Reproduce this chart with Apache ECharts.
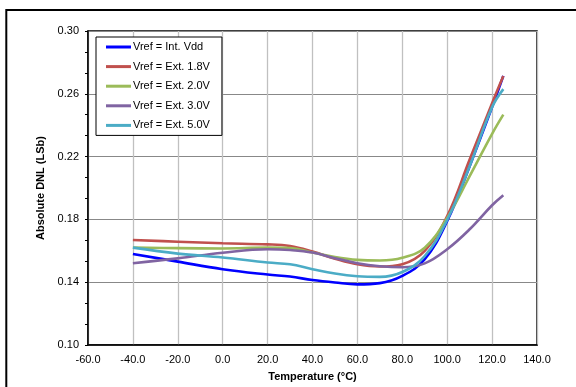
<!DOCTYPE html>
<html>
<head>
<meta charset="utf-8">
<script src="https://cdn.jsdelivr.net/npm/echarts@6/dist/echarts.min.js"></script>
<style>html,body{margin:0;padding:0;background:#fff;}#c{width:576px;height:387px;}</style>
</head>
<body>
<div id="c"></div>
<script>
const temps = [-40, -20, 0, 20, 30, 40, 50, 60, 70, 80, 90, 100, 110, 120, 125];
const intVdd = [0.1580, 0.1531, 0.1483, 0.1449, 0.1436, 0.1414, 0.1398, 0.1386, 0.1394, 0.1440, 0.1546, 0.1790, 0.2139, 0.2515, 0.2714];
const ext18 = [0.1669, 0.1658, 0.1648, 0.1641, 0.1630, 0.1595, 0.1550, 0.1514, 0.1500, 0.1515, 0.1600, 0.1821, 0.2181, 0.2540, 0.2714];
const ext20 = [0.1620, 0.1617, 0.1615, 0.1620, 0.1618, 0.1589, 0.1560, 0.1542, 0.1538, 0.1555, 0.1620, 0.1810, 0.2075, 0.2345, 0.2467];
const ext30 = [0.1521, 0.1552, 0.1588, 0.1610, 0.1605, 0.1589, 0.1553, 0.1521, 0.1502, 0.1495, 0.1520, 0.1610, 0.1737, 0.1890, 0.1954];
const ext50 = [0.1620, 0.1582, 0.1557, 0.1525, 0.1514, 0.1483, 0.1455, 0.1438, 0.1434, 0.1465, 0.1567, 0.1797, 0.2139, 0.2515, 0.2630];
const seriesNames = ['Vref = Int. Vdd', 'Vref = Ext. 1.8V', 'Vref = Ext. 2.0V', 'Vref = Ext. 3.0V', 'Vref = Ext. 5.0V'];
const seriesColors = ['#0000FF', '#C0504D', '#9BBB59', '#8064A2', '#4BACC6'];
const yTickLabels = ['0.10', '0.14', '0.18', '0.22', '0.26', '0.30'];
const yBase = 0.10;

const allData = [intVdd, ext18, ext20, ext30, ext50];
const font = '"Liberation Sans", Arial, sans-serif';

const chart = echarts.init(document.getElementById('c'), null, {renderer: 'canvas'});
chart.setOption({
  animation: false,
  backgroundColor: '#fff',
  graphic: [{
    type: 'rect', silent: true, z: 100,
    shape: {x: 6.3, y: 10, width: 700, height: 500},
    style: {fill: 'none', stroke: '#000', lineWidth: 2}
  }],
  grid: {left: 88, right: 39, top: 31, bottom: 41, show: true, borderColor: '#000', borderWidth: 1.5, backgroundColor: 'transparent'},
  legend: {
    left: 96, top: 37, orient: 'vertical',
    backgroundColor: '#fff', borderColor: '#000', borderWidth: 1,
    padding: [3, 12, 3, 10],
    itemWidth: 25, itemHeight: 3, itemGap: 5.6, icon: 'rect',
    textStyle: {fontFamily: font, fontSize: 11, color: '#000', lineHeight: 14, padding: [0, 0, 0, -3]},
    data: seriesNames
  },
  xAxis: {
    type: 'value', min: -60, max: 140, interval: 20,
    name: 'Temperature (°C)', nameLocation: 'middle', nameGap: 26,
    nameTextStyle: {fontFamily: font, fontSize: 11, fontWeight: 'bold', color: '#000'},
    axisLine: {show: true, onZero: false, lineStyle: {color: '#000', width: 1.5}},
    axisTick: {show: false},
    axisLabel: {fontFamily: font, fontSize: 11, color: '#000', margin: 9, formatter: v => v.toFixed(1)},
    splitLine: {show: true, lineStyle: {color: '#c0c0c0', width: 1.3}}
  },
  yAxis: {
    type: 'value', min: 0, max: 20, interval: 4,
    name: 'Absolute DNL (LSb)', nameLocation: 'middle', nameGap: 32,
    nameTextStyle: {fontFamily: font, fontSize: 11, fontWeight: 'bold', color: '#000'},
    axisLine: {show: true, onZero: false, lineStyle: {color: '#000', width: 1.5}},
    axisTick: {show: true, inside: false, length: 3, lineStyle: {color: '#000', width: 1}},
    minorTick: {show: true, splitNumber: 3, length: 3, lineStyle: {color: '#000', width: 1}},
    axisLabel: {fontFamily: font, fontSize: 11, color: '#000', margin: 9,
      formatter: v => yTickLabels[Math.round(v / 4)]},
    splitLine: {show: true, lineStyle: {color: '#888888', width: 1}}
  },
  series: allData.map((arr, i) => ({
    name: seriesNames[i], type: 'line', smooth: 0.4, symbol: 'none',
    lineStyle: {color: seriesColors[i], width: 2.6},
    itemStyle: {color: seriesColors[i]},
    data: temps.map((t, j) => [t, (arr[j] - yBase) * 100])
  }))
});
</script>
</body>
</html>
